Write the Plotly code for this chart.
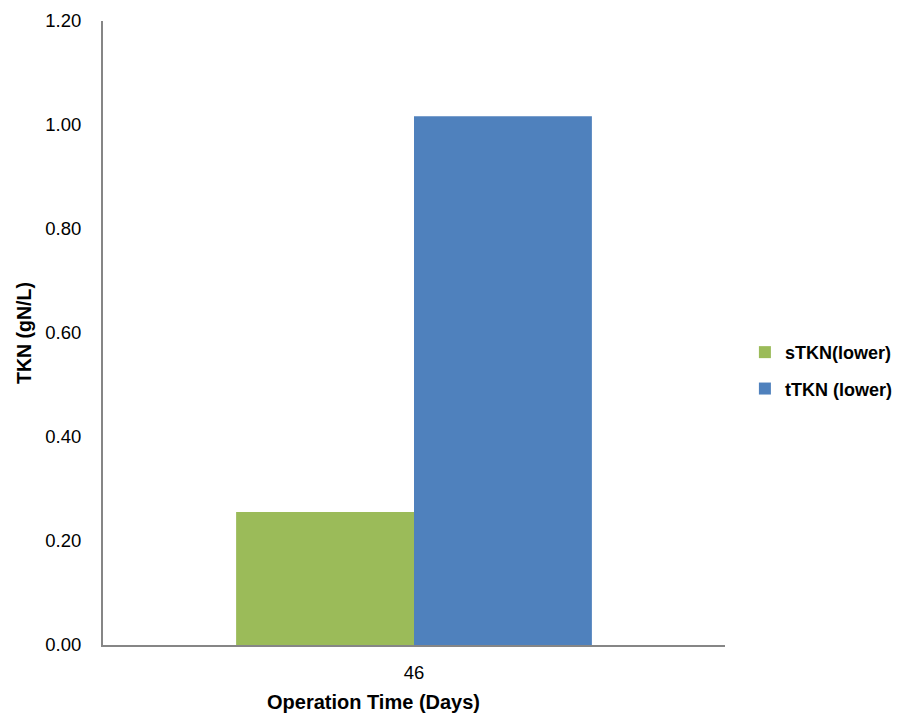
import plotly.graph_objects as go

categories = ["46"]
series_names = ["sTKN(lower)", "tTKN (lower)"]
stkn_values = [0.256]
ttkn_values = [1.017]
colors = ["#9BBB59", "#4F81BD"]
y_ticks = [0.0, 0.2, 0.4, 0.6, 0.8, 1.0, 1.2]
x_title = "Operation Time (Days)"
y_title = "TKN (gN/L)"

fig = go.Figure()
for name, vals, col in zip(series_names, [stkn_values, ttkn_values], colors):
    fig.add_trace(go.Bar(x=categories, y=vals, name=name, marker=dict(color=col, line=dict(width=0)),
                         legendgroup=name))

font_family = "Liberation Sans, Arial, sans-serif"
fig.update_layout(
    width=901, height=707,
    barmode="group", bargap=0.428, bargroupgap=0,
    plot_bgcolor="white", paper_bgcolor="white",
    margin=dict(l=95, r=182, t=13, b=70),
    font=dict(family=font_family, size=18, color="#000000"),
    showlegend=True,
    legend=dict(x=1.032, xanchor="left", y=0.44, yanchor="middle",
                font=dict(size=18, family=font_family, color="#000000", weight="bold"),
                tracegroupgap=10, traceorder="grouped", itemwidth=30),
    xaxis=dict(type="category", showline=True, linecolor="#868686", linewidth=2,
               ticks="", tickfont=dict(size=18.5), showgrid=False, automargin=False,
               ticklabelstandoff=10),
    yaxis=dict(range=[0, 1.2], tickvals=y_ticks, ticktext=[f"{v:.2f}" for v in y_ticks],
               showline=True, linecolor="#868686", linewidth=2, ticks="", showgrid=False,
               zeroline=False, tickfont=dict(size=18.5), ticklabelstandoff=16, automargin=False,
               title=dict(text=f"<b>{y_title}</b>", font=dict(size=19.5), standoff=8)),
    annotations=[dict(text=f"<b>{x_title}</b>", xref="paper", yref="paper",
                      x=0.435, y=-0.092, xanchor="center", yanchor="middle",
                      showarrow=False, font=dict(size=20, family=font_family, color="#000000"))],
)
fig.write_html("out.html")
